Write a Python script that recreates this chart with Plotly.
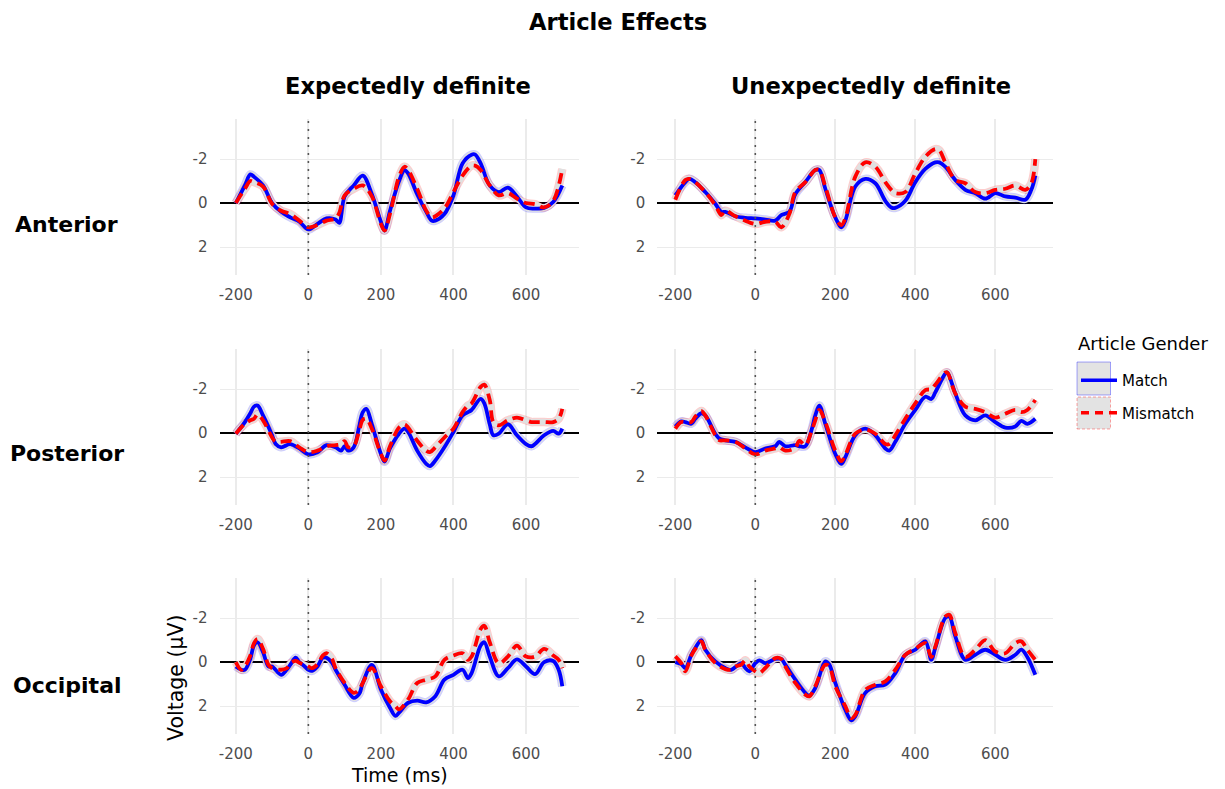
import plotly.graph_objects as go

W, H = 1225, 789

# ---------------- data ----------------
times_ant_exp = [-200, -175, -160, -150, -125, -100, -75, -50, -25, 0, 25, 50, 75, 85, 100, 125, 150, 175, 200, 210,
                 225, 250, 265, 275, 300, 325, 340, 350, 375, 400, 425, 450, 460, 475, 500, 525, 550, 575, 600, 625,
                 650, 675, 700]
match_ant_exp = [0.0, -0.8, -1.3, -1.2, -0.8, 0.0, 0.4, 0.65, 0.85, 1.2, 0.95, 0.7, 0.75, 0.9, -0.3, -0.8, -1.25, -0.4,
                 0.85, 1.25, 0.35, -1.0, -1.5, -1.35, -0.4, 0.4, 0.8, 0.8, 0.5, -0.35, -1.8, -2.2, -2.2, -1.8, -0.8,
                 -0.5, -0.7, -0.3, 0.2, 0.25, 0.22, -0.05, -0.8]
mismatch_ant_exp = [0.0, -0.65, -1.0, -0.95, -0.75, 0.03, 0.35, 0.5, 0.8, 1.1, 1.0, 0.8, 0.7, 0.45, -0.35, -0.65, -0.8,
                    -0.3, 0.95, 1.25, 0.5, -1.2, -1.65, -1.5, -0.65, 0.35, 0.65, 0.6, 0.25, -0.5, -1.25, -1.7, -1.7,
                    -1.5, -0.8, -0.35, -0.45, -0.2, 0.0, 0.05, 0.2, -0.1, -1.55]

times_ant_unexp = [-200, -175, -165, -150, -125, -100, -85, -75, -50, -25, 0, 25, 50, 65, 85, 100, 125, 150, 160, 175,
                   200, 215, 225, 250, 275, 300, 325, 340, 350, 375, 400, 425, 450, 460, 475, 500, 525, 550, 575, 600,
                   625, 650, 675, 690, 700]
match_ant_unexp = [-0.35, -0.95, -1.1, -0.95, -0.5, 0.03, 0.4, 0.4, 0.6, 0.67, 0.7, 0.75, 0.8, 0.55, 0.4, -0.4, -0.95,
                   -1.5, -1.5, -0.65, 0.65, 1.1, 0.8, -0.75, -1.1, -0.9, -0.1, 0.2, 0.22, -0.1, -0.95, -1.55, -1.85,
                   -1.85, -1.65, -1.05, -0.6, -0.45, -0.2, -0.45, -0.3, -0.25, -0.15, -0.6, -1.25]
mismatch_ant_unexp = [-0.15, -1.05, -1.1, -0.95, -0.5, 0.1, 0.55, 0.35, 0.6, 0.8, 0.95, 0.85, 0.85, 1.1, 0.5, -0.5,
                      -0.95, -1.5, -1.5, -0.75, 0.65, 1.0, 0.7, -1.2, -1.85, -1.65, -0.95, -0.6, -0.45, -0.5, -1.35,
                      -2.1, -2.45, -2.4, -1.85, -1.05, -0.9, -0.5, -0.45, -0.6, -0.65, -0.8, -0.6, -0.9, -2.0]

times_post_exp = [-200, -175, -160, -150, -140, -125, -100, -90, -75, -50, -25, 0, 25, 50, 75, 90, 100, 110, 125, 140,
                  150, 160, 175, 200, 210, 225, 250, 265, 275, 300, 325, 335, 350, 375, 400, 425, 440, 450, 475, 485,
                  500, 510, 525, 550, 575, 600, 615, 625, 650, 675, 690, 700]
match_post_exp = [0.03, -0.5, -0.9, -1.2, -1.25, -0.8, 0.1, 0.5, 0.65, 0.5, 0.7, 0.97, 0.87, 0.55, 0.65, 0.8, 0.6, 0.8,
                  0.65, -0.3, -0.95, -1.1, -0.4, 0.95, 1.3, 0.7, 0.03, -0.2, -0.05, 0.8, 1.4, 1.5, 1.25, 0.65, -0.05,
                  -0.8, -0.95, -1.05, -1.55, -1.35, -0.4, 0.1, 0.03, -0.4, 0.1, 0.5, 0.6, 0.5, 0.1, -0.1, 0.03, -0.2]
mismatch_post_exp = [0.03, -0.42, -0.58, -0.65, -0.85, -0.58, 0.2, 0.4, 0.4, 0.37, 0.65, 0.87, 0.8, 0.6, 0.55, 0.5,
                     0.37, 0.65, 0.6, -0.1, -0.6, -0.65, -0.2, 0.95, 1.25, 0.6, -0.25, -0.4, -0.25, 0.35, 0.8, 0.87,
                     0.65, 0.2, -0.2, -0.95, -1.25, -1.35, -2.1, -2.2, -1.5, -0.5, -0.35, -0.58, -0.7, -0.58, -0.5,
                     -0.5, -0.5, -0.5, -0.65, -1.1]

times_post_unexp = [-200, -185, -175, -160, -150, -135, -125, -100, -90, -75, -50, -25, 0, 25, 50, 60, 75, 100, 110,
                    125, 140, 150, 160, 175, 200, 215, 225, 250, 275, 300, 325, 335, 350, 375, 400, 425, 440, 450, 475,
                    480, 500, 525, 550, 575, 600, 625, 650, 665, 680, 700]
match_post_unexp = [-0.3, -0.53, -0.5, -0.42, -0.65, -0.9, -0.8, 0.03, 0.25, 0.33, 0.4, 0.65, 0.87, 0.7, 0.6, 0.4, 0.6,
                    0.55, 0.6, 0.6, -0.1, -0.8, -1.25, -0.42, 0.95, 1.4, 1.1, 0.1, -0.2, 0.1, 0.7, 0.8, 0.4, -0.42,
                    -1.05, -1.65, -1.55, -1.85, -2.7, -2.75, -1.8, -0.8, -0.58, -0.8, -0.5, -0.25, -0.3, -0.55, -0.42,
                    -0.65]
mismatch_post_unexp = [-0.2, -0.5, -0.5, -0.5, -0.75, -1.0, -0.8, 0.1, 0.33, 0.33, 0.4, 0.7, 0.97, 0.8, 0.7, 0.65, 0.8,
                       0.67, 0.35, 0.55, -0.05, -0.58, -1.05, -0.5, 0.8, 1.28, 1.0, 0.03, -0.15, 0.03, 0.5, 0.5, 0.1,
                       -0.65, -1.35, -1.95, -2.0, -2.2, -2.75, -2.75, -1.8, -1.2, -1.1, -0.95, -0.7, -0.88, -1.05,
                       -0.95, -1.05, -1.5]

times_occ_exp = [-200, -185, -175, -160, -150, -140, -125, -110, -100, -75, -60, -50, -35, -25, -10, 0, 10, 25, 40, 50,
                 65, 75, 100, 125, 140, 150, 175, 200, 225, 240, 250, 275, 300, 325, 350, 375, 400, 425, 440, 450, 475,
                 485, 500, 525, 550, 575, 600, 625, 650, 675, 690, 700]
match_occ_exp = [0.2, 0.35, 0.35, -0.15, -0.75, -0.9, -0.45, 0.2, 0.2, 0.58, 0.35, 0.13, -0.2, 0.0, 0.2, 0.35, 0.4, 0.2,
                 -0.2, -0.2, 0.03, 0.35, 1.03, 1.63, 1.45, 0.95, 0.13, 1.25, 2.08, 2.45, 2.3, 1.85, 1.75, 1.83, 1.55,
                 0.8, 0.58, 0.35, 0.73, 0.5, -0.75, -0.9, -0.25, 0.65, 0.28, -0.12, 0.2, 0.55, 0.0, -0.05, 0.35, 1.1]
mismatch_occ_exp = [0.0, 0.35, 0.2, -0.3, -0.85, -1.05, -0.6, 0.13, 0.28, 0.35, 0.28, 0.06, -0.05, 0.03, 0.13, 0.2,
                    0.28, 0.1, -0.3, -0.4, -0.15, 0.28, 0.95, 1.4, 1.25, 0.95, 0.28, 1.1, 1.78, 2.0, 2.15, 1.7, 0.95,
                    0.8, 0.65, -0.1, -0.3, -0.4, -0.1, -0.25, -1.5, -1.65, -0.9, 0.06, -0.25, -0.75, -0.25, -0.25,
                    -0.6, -0.3, -0.1, 0.28]

times_occ_unexp = [-200, -185, -175, -160, -150, -135, -125, -100, -75, -60, -50, -35, -25, -15, 0, 10, 25, 50, 65, 75,
                   100, 125, 135, 150, 175, 185, 200, 225, 240, 250, 275, 300, 325, 350, 375, 400, 425, 440, 450, 475,
                   485, 500, 525, 550, 575, 600, 625, 650, 665, 680, 700]
match_occ_unexp = [0.0, 0.1, 0.27, -0.33, -0.64, -1.0, -0.56, -0.03, 0.27, 0.35, 0.23, 0.05, 0.27, 0.42, 0.05, -0.08,
                   0.05, -0.14, -0.14, 0.12, 0.8, 1.4, 1.53, 1.18, -0.03, 0.12, 0.95, 2.17, 2.65, 2.47, 1.4, 1.1, 1.03,
                   0.5, -0.33, -0.56, -0.94, -0.1, -0.64, -2.0, -2.07, -1.17, -0.1, -0.33, -0.56, -0.33, -0.1, -0.33,
                   -0.56, -0.23, 0.58]
mismatch_occ_unexp = [-0.26, 0.05, 0.42, -0.29, -0.6, -0.94, -0.56, 0.05, 0.32, 0.35, 0.2, 0.12, -0.08, 0.2, 0.42, 0.5,
                      0.27, -0.18, -0.14, 0.2, 0.95, 1.48, 1.56, 1.1, 0.12, 0.2, 1.1, 2.0, 2.55, 2.4, 1.26, 1.03, 0.88,
                      0.35, -0.33, -0.6, -0.86, -0.23, -0.7, -2.07, -2.15, -1.32, -0.23, -0.56, -1.0, -0.48, -0.4,
                      -0.86, -0.94, -0.56, -0.1]

row_labels = ["Anterior", "Posterior", "Occipital"]
col_labels = ["Expectedly definite", "Unexpectedly definite"]
x_ticks = [-200, 0, 200, 400, 600]
y_ticks = [-2, 0, 2]
conditions = ["Match", "Mismatch"]

panels = [
    (times_ant_exp, match_ant_exp, mismatch_ant_exp),
    (times_ant_unexp, match_ant_unexp, mismatch_ant_unexp),
    (times_post_exp, match_post_exp, mismatch_post_exp),
    (times_post_unexp, match_post_unexp, mismatch_post_unexp),
    (times_occ_exp, match_occ_exp, mismatch_occ_exp),
    (times_occ_unexp, match_occ_unexp, mismatch_occ_unexp),
]

# ---------------- geometry / style ----------------
FONT = "DejaVu Sans"
col_px = [(219.5, 578.6), (657.3, 1053.3)]
row_px = [(119, 275), (349, 505), (578, 734)]
x_range = [-245, 745]
y_range = [3.27, -3.82]

BLUE = "#0000ff"
RED = "#ff0000"
GRID = "#ebebeb"

fig = go.Figure()
layout = dict(
    width=W, height=H,
    margin=dict(l=0, r=0, t=0, b=0),
    paper_bgcolor="white", plot_bgcolor="white",
    showlegend=True,
    font=dict(family=FONT, color="#000000"),
)
shapes = []
annotations = []

for i, (t, m, mm) in enumerate(panels):
    r, c = divmod(i, 2)
    sfx = "" if i == 0 else str(i + 1)
    x0, x1 = col_px[c]
    y0, y1 = row_px[r]
    layout["xaxis" + sfx] = dict(
        domain=[x0 / W, x1 / W], anchor="y" + sfx, range=x_range,
        tickvals=x_ticks, ticktext=[str(v) for v in x_ticks],
        showgrid=True, gridcolor=GRID, gridwidth=2, zeroline=False, showline=False,
        ticks="outside", ticklen=6, tickcolor="rgba(0,0,0,0)",
        tickfont=dict(family=FONT, size=15, color="#4d4d4d"), automargin=False,
    )
    layout["yaxis" + sfx] = dict(
        domain=[1 - y1 / H, 1 - y0 / H], anchor="x" + sfx, range=y_range,
        tickvals=y_ticks, ticktext=[str(v) for v in y_ticks],
        showgrid=True, gridcolor=GRID, gridwidth=1.4, showline=False,
        zeroline=True, zerolinecolor="black", zerolinewidth=2,
        ticks="outside", ticklen=8, tickcolor="rgba(0,0,0,0)",
        tickfont=dict(family=FONT, size=15, color="#4d4d4d"), automargin=False,
    )
    xa, ya = "x" + sfx, "y" + sfx
    # ribbons (drawn as wide translucent underlays)
    for vals, col in ((m, "rgba(0,0,255,0.2)"), (mm, "rgba(255,0,0,0.2)")):
        fig.add_trace(go.Scatter(x=t, y=vals, xaxis=xa, yaxis=ya, mode="lines", line_shape="spline",
                                 line=dict(color=col, width=8.5), hoverinfo="skip", showlegend=False))
        fig.add_trace(go.Scatter(x=t, y=vals, xaxis=xa, yaxis=ya, mode="lines", line_shape="spline",
                                 line=dict(color="rgba(224,224,224,1)", width=6.5), hoverinfo="skip",
                                 showlegend=False))
    fig.add_trace(go.Scatter(x=t, y=m, xaxis=xa, yaxis=ya, mode="lines", line_shape="spline",
                             line=dict(color=BLUE, width=3.8), name=conditions[0], showlegend=False))
    fig.add_trace(go.Scatter(x=t, y=mm, xaxis=xa, yaxis=ya, mode="lines", line_shape="spline",
                             line=dict(color=RED, width=3.8, dash="11px,6px"), name=conditions[1],
                             showlegend=False))
    # dotted onset line at t = 0
    shapes.append(dict(type="line", xref=xa, x0=0, x1=0, yref=ya + " domain", y0=0, y1=1,
                       line=dict(color="#555555", width=1.6, dash="2px,6px"), layer="above"))

# legend entries
fig.add_trace(go.Scatter(x=[None], y=[None], mode="lines", line=dict(color=BLUE, width=3.5),
                         name=conditions[0], legendgroup="a", showlegend=True))
fig.add_trace(go.Scatter(x=[None], y=[None], mode="lines", line=dict(color=RED, width=3.5, dash="8px,6px"),
                         name=conditions[1], legendgroup="b", showlegend=True))
layout["legend"] = dict(
    x=1076 / W, y=1 - 364 / H, xanchor="left", yanchor="top",
    font=dict(family=FONT, size=15, color="black"),
    bgcolor="rgba(0,0,0,0)", tracegroupgap=10, itemwidth=36,
)
# legend key boxes
shapes.append(dict(type="rect", xref="paper", yref="paper", x0=1077 / W, x1=1110.5 / W,
                   y0=1 - 395 / H, y1=1 - 362 / H, fillcolor="#e3e3e3",
                   line=dict(color="rgba(0,0,255,0.35)", width=1), layer="below"))
shapes.append(dict(type="rect", xref="paper", yref="paper", x0=1077 / W, x1=1110.5 / W,
                   y0=1 - 429 / H, y1=1 - 397 / H, fillcolor="#e3e3e3",
                   line=dict(color="rgba(255,0,0,0.35)", width=1, dash="3px,2px"), layer="below"))

# titles / labels
def ann(text, x, y, size, bold=False, angle=0, color="black", xanchor="center"):
    annotations.append(dict(text=f"<b>{text}</b>" if bold else text, x=x / W, y=1 - y / H,
                            xref="paper", yref="paper", showarrow=False, xanchor=xanchor, yanchor="middle",
                            textangle=angle, font=dict(family=FONT, size=size, color=color)))

ann("Article Effects", 618, 22, 22.6, bold=True)
ann(col_labels[0], 408, 86, 22.6, bold=True)
ann(col_labels[1], 871, 86, 22.6, bold=True)
ann(row_labels[0], 66.5, 224, 22, bold=True)
ann(row_labels[1], 66.5, 454, 22, bold=True)
ann(row_labels[2], 67, 685, 22, bold=True)
ann("Time (ms)", 399.5, 775, 19)
ann("Voltage (μV)", 176, 678, 20.5, angle=-90)
ann("Article Gender", 1076, 343, 18, xanchor="left")

layout["shapes"] = shapes
layout["annotations"] = annotations
fig.update_layout(**layout)
fig.write_html("out.html")
